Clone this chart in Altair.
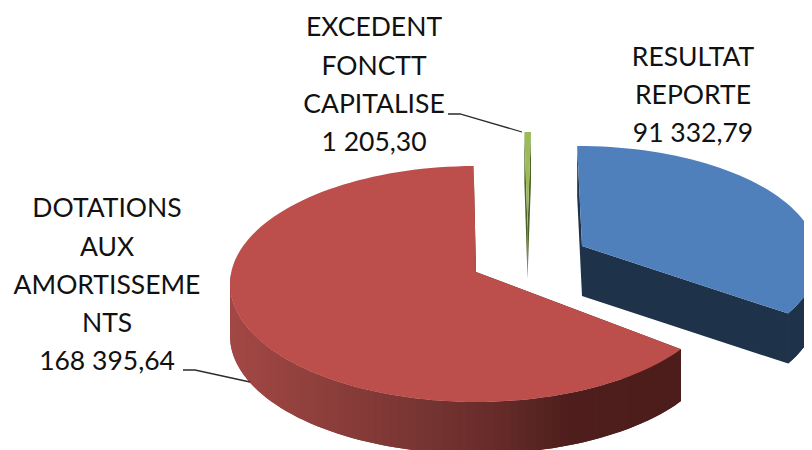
import math
import altair as alt
import pandas as pd

# values
names = ["RESULTAT REPORTE", "DOTATIONS AUX AMORTISSEMENTS", "EXCEDENT FONCTT CAPITALISE"]
values = [91332.79, 168395.64, 1205.30]

# exploded pie geometry per slice: ellipse centre/radii, pivot, wall depth, perspective
cx = [578, 476, 531]
cy = [259, 284, 247]
rx = [240, 246, 246]
ry = [113, 118, 115]
px = [582, 476, 527.5]
py = [246, 272, 228]
depth = [50, 52, 50]
persp = [0.866, 0.93, 0.93]
rot = [-0.2, 1.0, 0.0]
top_col = ["#4f80bb", "#bc4f4c", "#9bbb59"]
wall_col = ["#1e3249", "#4c1d1b", "#4f6228"]

# gradient on the red outer wall: x position -> colour
grad_x = [232, 400, 500, 570, 681]
grad_c = ["#a24845", "#7c3734", "#652b29", "#4e1e1c", "#4c1d1b"]

# labels
label_lines = [
    ["RESULTAT", "REPORTE", "91 332,79"],
    ["DOTATIONS", "AUX", "AMORTISSEME", "NTS", "168 395,64"],
    ["EXCEDENT", "FONCTT", "CAPITALISE", "1 205,30"],
]
label_x = [693, 107, 374]
label_y = [[58, 96, 134], [209, 248, 286, 324, 362], [28, 67, 105, 143]]

# leader lines
lead_x = [[183, 195, 250], [448, 460, 522]]
lead_y = [[370, 370, 382], [114, 114, 132]]

PLOT_W, PLOT_H = 796, 442


def hex2rgb(h):
    return [int(h[i:i + 2], 16) for i in (1, 3, 5)]


def shade(x):
    if x <= grad_x[0]:
        return grad_c[0]
    for k in range(len(grad_x) - 1):
        if x <= grad_x[k + 1]:
            t = (x - grad_x[k]) / (grad_x[k + 1] - grad_x[k])
            a, b = hex2rgb(grad_c[k]), hex2rgb(grad_c[k + 1])
            return "#%02x%02x%02x" % tuple(round(a[j] + (b[j] - a[j]) * t) for j in range(3))
    return grad_c[-1]


def theta(s, phi):
    half = math.radians(phi) / 2
    if abs(phi - 180) < 1e-9:
        return 180.0 + rot[s]
    t = 2 * math.atan(persp[s] * math.tan(half))
    deg = math.degrees(t)
    if deg < 0:
        deg += 360
    return deg + rot[s]


def rim(s, th, d=0.0):
    r = math.radians(th)
    return cx[s] + rx[s] * math.sin(r), cy[s] - ry[s] * math.cos(r) + d


total = sum(values)
rows = []


def add(part, col, pts):
    for i, (x, y) in enumerate(pts):
        rows.append({"part": part, "c": col, "i": i, "x": x, "y": y})


phi = 0.0
spans = []
for s, v in enumerate(values):
    spans.append((phi, phi + v / total * 360))
    phi = spans[-1][1]

for s in [2, 0, 1]:
    a0, a1 = theta(s, spans[s][0]), theta(s, spans[s][1])
    n = max(2, int((a1 - a0) / 2.0))
    arc = [a0 + (a1 - a0) * k / n for k in range(n + 1)]
    d = depth[s]
    P = (px[s], py[s])
    first, last = rim(s, a0), rim(s, a1)
    add(f"w{s}a", wall_col[s], [P, first, rim(s, a0, d), (P[0], P[1] + d)])
    add(f"w{s}b", wall_col[s], [P, last, rim(s, a1, d), (P[0], P[1] + d)])
    # outer wall strips, each one running under the next so no seams show
    for k in range(n):
        t0 = arc[k]
        if t0 < 90 or t0 > 272:
            continue
        t1, t2 = arc[k + 1], arc[min(k + 2, n)]
        x0, x1 = rim(s, t0)[0], rim(s, t1)[0]
        col = shade((x0 + x1) / 2) if s == 1 else wall_col[s]
        add(f"o{s}_{k}", col,
            [rim(s, t0), rim(s, t1), rim(s, t2), rim(s, t2, d), rim(s, t1, d), rim(s, t0, d)])
    add(f"t{s}", top_col[s], [P] + [rim(s, t) for t in arc])

poly = pd.DataFrame(rows)

x_scale = alt.Scale(domain=[8, 8 + PLOT_W], range=[0, PLOT_W], nice=False, zero=False)
y_scale = alt.Scale(domain=[8 + PLOT_H, 8], range=[PLOT_H, 0], nice=False, zero=False)
X = alt.X("x:Q", scale=x_scale, axis=None)
Y = alt.Y("y:Q", scale=y_scale, axis=None)

layers = []
for part in poly["part"].unique():
    d = poly[poly["part"] == part]
    col = d["c"].iloc[0]
    layers.append(
        alt.Chart(alt.Data(values=d[["i", "x", "y"]].to_dict("records")))
        .mark_line(interpolate="linear-closed", fill=col, stroke=None, clip=True)
        .encode(x=X, y=Y, order=alt.Order("i:Q"))
    )

lead_rows = []
for j, (xs, ys) in enumerate(zip(lead_x, lead_y)):
    for i, (x, y) in enumerate(zip(xs, ys)):
        lead_rows.append({"leader": j, "i": i, "x": x, "y": y})
leaders = (
    alt.Chart(pd.DataFrame(lead_rows))
    .mark_line(color="#2b2b2b", strokeWidth=1.3)
    .encode(x=X, y=Y, detail="leader:N", order=alt.Order("i:Q"))
)

text_rows = []
for lines, x, ys in zip(label_lines, label_x, label_y):
    for line, y in zip(lines, ys):
        text_rows.append({"t": line, "x": x, "y": y})
texts = (
    alt.Chart(pd.DataFrame(text_rows))
    .mark_text(font="Lato", fontSize=26.5, color="#111111", align="center", baseline="middle")
    .encode(x=X, y=Y, text="t:N")
)

chart = (
    alt.layer(*layers, leaders, texts)
    .properties(width=PLOT_W, height=PLOT_H, padding=0, background="white")
    .configure_view(stroke=None)
)
chart.save("out.html", embed_options={"renderer": "svg", "actions": False})
